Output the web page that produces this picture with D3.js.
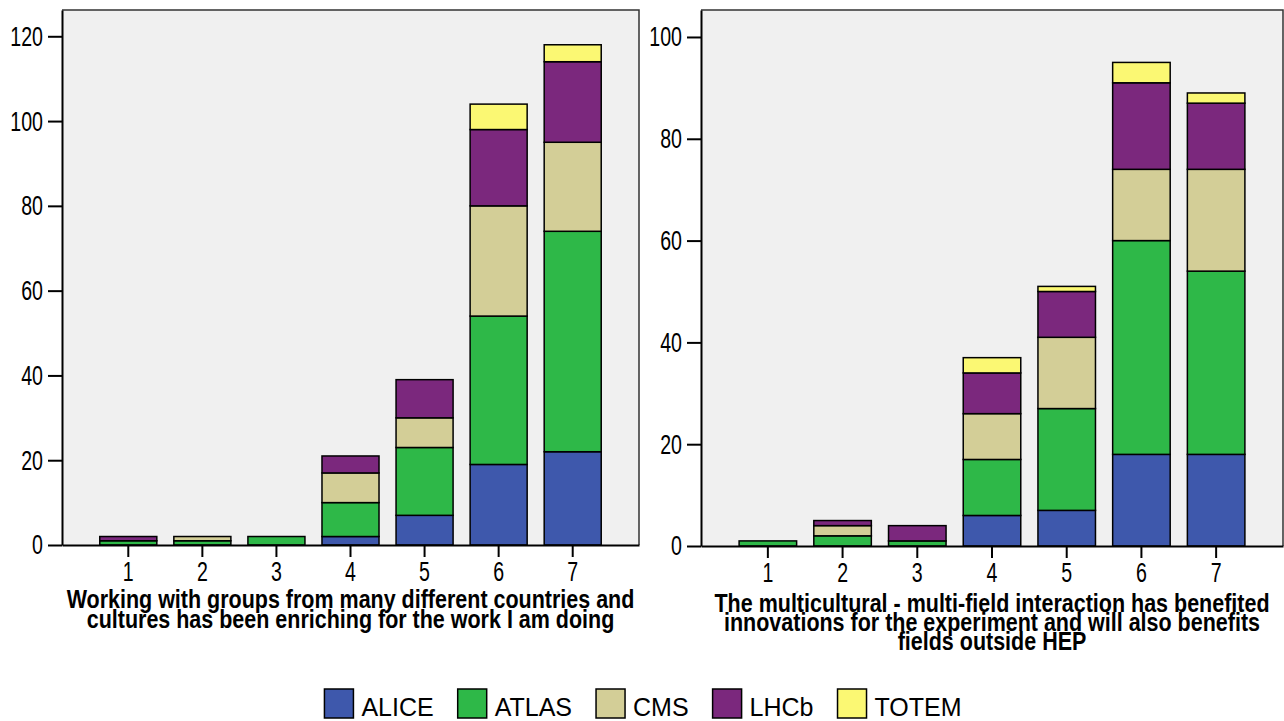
<!DOCTYPE html>
<html><head><meta charset="utf-8">
<script src="https://cdn.jsdelivr.net/npm/d3@7"></script>
<style>
html,body{margin:0;padding:0;background:#fff;}
svg{display:block;}
text{font-family:"Liberation Sans",Arial,sans-serif;fill:#000;}
</style></head>
<body>
<svg id="chart" width="1284" height="721"></svg>
<script>
const categories = ["1","2","3","4","5","6","7"];
const seriesNames = ["ALICE","ATLAS","CMS","LHCb","TOTEM"];
const seriesColors = ["#3e58ac","#2eb848","#d3ce97","#7b287d","#fbf873"];

// Left chart values
const leftALICE = [0,0,0,2,7,19,22];
const leftATLAS = [1,1,2,8,16,35,52];
const leftCMS   = [0,1,0,7,7,26,21];
const leftLHCb  = [1,0,0,4,9,18,19];
const leftTOTEM = [0,0,0,0,0,6,4];
const leftTicks = [0,20,40,60,80,100,120];
const leftTitle = ["Working with groups from many different countries and",
                   "cultures has been enriching for the work I am doing"];

// Right chart values
const rightALICE = [0,0,0,6,7,18,18];
const rightATLAS = [1,2,1,11,20,42,36];
const rightCMS   = [0,2,0,9,14,14,20];
const rightLHCb  = [0,1,3,8,9,17,13];
const rightTOTEM = [0,0,0,3,1,4,2];
const rightTicks = [0,20,40,60,80,100];
const rightTitle = ["The multicultural - multi-field interaction has benefited",
                    "innovations for the experiment and will also benefits",
                    "fields outside HEP"];

const svg = d3.select("#chart");
const TICK_SX = 0.7;
const TITLE_SX = 0.86;

function build(series){
  return categories.map((c,i)=>{
    const o={cat:c};
    seriesNames.forEach((s,j)=>o[s]=series[j][i]);
    return o;
  });
}

function drawPanel(cfg){
  const {x0,x1,yTop,yBase,yMax,ticks,data,title,titleY,lineH} = cfg;
  const g = svg.append("g");
  const x = d3.scaleBand().domain(categories).range([x0,x1]).paddingInner(0.23).paddingOuter(0.51);
  const y = d3.scaleLinear().domain([0,yMax]).range([yBase,yTop]);

  g.append("rect").attr("x",x0).attr("y",yTop).attr("width",x1-x0).attr("height",yBase-yTop)
    .attr("fill","#f0f0f0").attr("stroke","none");
  g.append("path").attr("d",`M${x0},${yTop}H${x1}V${yBase}`).attr("fill","none")
    .attr("stroke","#333").attr("stroke-width",1.5);

  const stack = d3.stack().keys(seriesNames)(data);
  stack.forEach((layer,li)=>{
    g.append("g").selectAll("rect").data(layer.filter(d=>d[1]-d[0]>0)).join("rect")
      .attr("x",d=>x(d.data.cat)).attr("width",x.bandwidth())
      .attr("y",d=>y(d[1])).attr("height",d=>y(d[0])-y(d[1]))
      .attr("fill",seriesColors[li]).attr("stroke","#000").attr("stroke-width",1.5);
  });

  const ya = g.append("g").attr("transform",`translate(${x0},0)`)
    .call(d3.axisLeft(y).tickValues(ticks).tickSize(14).tickPadding(5).tickSizeOuter(0));
  ya.select(".domain").attr("stroke","#000").attr("stroke-width",2);
  ya.selectAll(".tick line").attr("stroke","#000").attr("stroke-width",2);
  ya.selectAll(".tick text").attr("font-size",28).attr("font-family","Liberation Sans, Arial, sans-serif")
    .attr("x",-19/TICK_SX).attr("transform",`scale(${TICK_SX},1)`);

  const xa = g.append("g").attr("transform",`translate(0,${yBase})`)
    .call(d3.axisBottom(x).tickSize(12).tickPadding(4).tickSizeOuter(0));
  xa.select(".domain").attr("stroke","#000").attr("stroke-width",2);
  xa.selectAll(".tick line").attr("stroke","#000").attr("stroke-width",2);
  xa.selectAll(".tick text").attr("font-size",28).attr("font-family","Liberation Sans, Arial, sans-serif")
    .attr("transform",`scale(${TICK_SX},1)`);

  const cx=(x0+x1)/2;
  title.forEach((line,i)=>{
    g.append("text").attr("transform",`translate(${cx},${titleY+i*lineH}) scale(${TITLE_SX},1)`)
      .attr("text-anchor","middle").attr("font-size",25).attr("font-weight","bold").text(line);
  });
}

drawPanel({x0:62,x1:639,yTop:10,yBase:545,yMax:126.2,ticks:leftTicks,
  data:build([leftALICE,leftATLAS,leftCMS,leftLHCb,leftTOTEM]),
  title:leftTitle,titleY:608,lineH:20});
drawPanel({x0:701,x1:1283,yTop:10,yBase:546,yMax:105.3,ticks:rightTicks,
  data:build([rightALICE,rightATLAS,rightCMS,rightLHCb,rightTOTEM]),
  title:rightTitle,titleY:612,lineH:19});

// legend
const lg = svg.append("g");
const box=29, gapBT=8, gapItem=24, fs=25;
const items = lg.selectAll("g").data(seriesNames).join("g");
items.append("rect").attr("width",box).attr("height",box).attr("y",689)
  .attr("fill",(d,i)=>seriesColors[i]).attr("stroke","#000").attr("stroke-width",1.5);
items.append("text").attr("x",box+gapBT).attr("y",716).attr("font-size",fs).text(d=>d);
let widths=[];
items.select("text").each(function(){widths.push(this.getComputedTextLength());});
const total = widths.reduce((a,w)=>a+box+gapBT+w,0)+gapItem*(widths.length-1);
let cur = 643-total/2;
items.attr("transform",(d,i)=>{const t=`translate(${cur},0)`;cur+=box+gapBT+widths[i]+gapItem;return t;});
</script>
</body></html>
